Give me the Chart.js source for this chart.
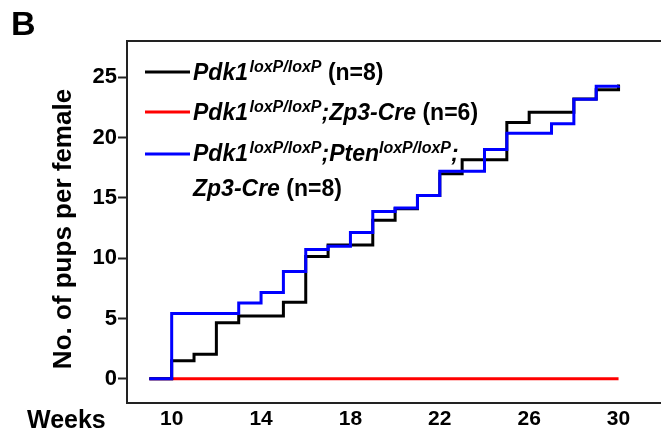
<!DOCTYPE html>
<html>
<head>
<meta charset="utf-8">
<script src="https://cdn.jsdelivr.net/npm/chart.js@4.4.1/dist/chart.umd.min.js"></script>
<style>
  html, body { margin: 0; padding: 0; background: #fff; }
</style>
</head>
<body>
<canvas id="chart" width="661" height="441"></canvas>
<script>
// weeks of age, cumulative pups per female (step curves)
const weeks = [9, 10, 11, 12, 13, 14, 15, 16, 17, 18, 19, 20, 21, 22, 23, 24, 25, 26, 27, 28, 29, 30];
const pdk1Flox = [0, 1.5, 2.05, 4.65, 5.2, 5.2, 6.35, 10.15, 11.1, 11.1, 13.15, 14.1, 15.2, 17.0, 18.15, 18.15, 21.25, 22.1, 22.1, 23.2, 23.95, 24.4];
const pdk1Zp3 = [0, 0, 0, 0, 0, 0, 0, 0, 0, 0, 0, 0, 0, 0, 0, 0, 0, 0, 0, 0, 0, 0];
const pdk1PtenZp3 = [0, 5.42, 5.42, 5.42, 6.28, 7.15, 8.9, 10.72, 11.0, 12.12, 13.88, 14.16, 15.2, 17.2, 17.2, 19.0, 20.35, 20.35, 21.14, 23.18, 24.26, 24.3];
const xTicks = [10, 14, 18, 22, 26, 30];
const yTicks = [0, 5, 10, 15, 20, 25];

const FONT = '"Liberation Sans", Arial, Helvetica, sans-serif';

function toPoints(vals) {
    return weeks.map((w, i) => ({ x: w, y: vals[i] }));
}

// legend rows drawn by hand because of italics and superscripts
const legendRows = [
    { ds: 0, lineY: 72, base: 80, parts: [['Pdk1', 'i'], ['loxP/loxP', 's'], [' (n=8)', 'b']] },
    { ds: 1, lineY: 112, base: 120, parts: [['Pdk1', 'i'], ['loxP/loxP', 's'], [';Zp3-Cre', 'i'], [' (n=6)', 'b']] },
    { ds: 2, lineY: 154, base: 161, parts: [['Pdk1', 'i'], ['loxP/loxP', 's'], [';Pten', 'i'], ['loxP/loxP', 's'], [';', 'i']] },
    { ds: -1, base: 196, parts: [['Zp3-Cre', 'i'], [' (n=8)', 'b']] }
];

const figureText = {
    id: 'figureText',
    afterDatasetsDraw(chart) {
        const ctx = chart.ctx;
        const a = chart.chartArea;
        ctx.save();

        // top frame line
        ctx.strokeStyle = '#222';
        ctx.lineWidth = 2;
        ctx.beginPath();
        ctx.moveTo(a.left - 1, a.top);
        ctx.lineTo(a.right, a.top);
        ctx.stroke();

        ctx.fillStyle = '#000';
        ctx.textBaseline = 'alphabetic';
        ctx.textAlign = 'left';
        ctx.font = 'bold 34px ' + FONT;
        ctx.fillText('B', 11, 35);
        ctx.font = 'bold 25px ' + FONT;
        ctx.fillText('Weeks', 27, 428);

        // y axis title, a bit below the plot centre like the original
        ctx.save();
        ctx.translate(63.5, 229);
        ctx.rotate(-Math.PI / 2);
        ctx.textAlign = 'center';
        ctx.textBaseline = 'middle';
        ctx.font = 'bold 26px ' + FONT;
        ctx.fillText('No. of pups per female', 0, 0);
        ctx.restore();

        legendRows.forEach(row => {
            if (row.ds >= 0) {
                ctx.strokeStyle = chart.data.datasets[row.ds].borderColor;
                ctx.lineWidth = 3;
                ctx.beginPath();
                ctx.moveTo(145, row.lineY);
                ctx.lineTo(190, row.lineY);
                ctx.stroke();
            }
            let x = 193;
            row.parts.forEach(([t, kind]) => {
                let y = row.base;
                if (kind === 'i') ctx.font = 'italic bold 23px ' + FONT;
                else if (kind === 's') { ctx.font = 'italic bold 16px ' + FONT; y -= 8; }
                else ctx.font = 'bold 23px ' + FONT;
                ctx.fillText(t, x, y);
                x += ctx.measureText(t).width + (kind === 'i' && t.startsWith('Pdk') ? 1.5 : 0);
            });
        });
        ctx.restore();
    }
};

new Chart(document.getElementById('chart'), {
    type: 'line',
    data: {
        datasets: [
            { label: 'Pdk1 loxP/loxP (n=8)', data: toPoints(pdk1Flox), borderColor: '#000000', order: 1 },
            { label: 'Pdk1 loxP/loxP;Zp3-Cre (n=6)', data: toPoints(pdk1Zp3), borderColor: '#ff0000', order: 2 },
            { label: 'Pdk1 loxP/loxP;Pten loxP/loxP;Zp3-Cre (n=8)', data: toPoints(pdk1PtenZp3), borderColor: '#0000ff', order: 0 }
        ]
    },
    options: {
        responsive: false,
        animation: false,
        devicePixelRatio: 1,
        layout: { padding: { top: 41, right: 0, bottom: 0, left: 0 } },
        elements: {
            line: { borderWidth: 3, stepped: 'before', tension: 0, fill: false },
            point: { radius: 0, hoverRadius: 0 }
        },
        plugins: { legend: { display: false }, tooltip: { enabled: false } },
        scales: {
            x: {
                type: 'linear',
                min: 8,
                max: 31.9,
                afterBuildTicks: s => { s.ticks = xTicks.map(v => ({ value: v })); },
                afterFit: s => { s.height = 38; },
                grid: { display: false, drawTicks: false },
                border: { display: true, color: '#222', width: 2 },
                ticks: {
                    color: '#000', padding: 4, autoSkip: false, maxRotation: 0,
                    font: { family: FONT, size: 21, weight: 'bold' }
                }
            },
            y: {
                min: -2,
                max: 28,
                afterBuildTicks: s => { s.ticks = yTicks.map(v => ({ value: v })); },
                afterFit: s => { s.width = 127; },
                grid: { drawOnChartArea: false, tickLength: 9, tickWidth: 2, tickColor: '#222' },
                border: { display: true, color: '#222', width: 2 },
                ticks: {
                    color: '#000', padding: 1,
                    font: { family: FONT, size: 22, weight: 'bold' }
                }
            }
        }
    },
    plugins: [figureText]
});
</script>
</body>
</html>
